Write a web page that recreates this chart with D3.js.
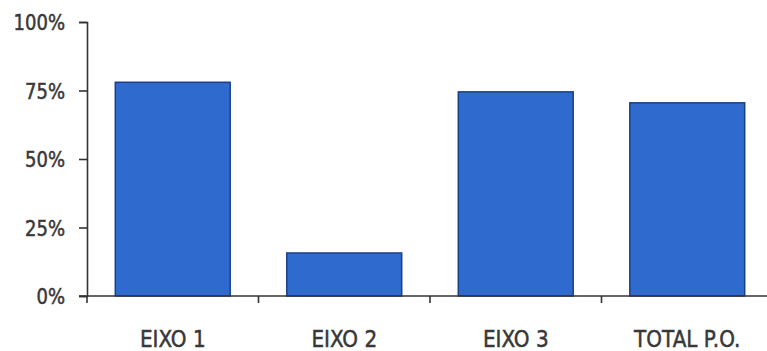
<!DOCTYPE html>
<html>
<head>
<meta charset="utf-8">
<script src="https://cdn.jsdelivr.net/npm/d3@7"></script>
<style>
  html, body { margin: 0; padding: 0; background: #ffffff; }
  svg { display: block; }
  text { font-family: "DejaVu Sans", Verdana, sans-serif; fill: #383838; stroke: #383838; stroke-width: 0.45px; }
</style>
</head>
<body>
<svg id="chart" width="767" height="351"></svg>
<script>
// Share of execution by priority axis
const categories = ["EIXO 1", "EIXO 2", "EIXO 3", "TOTAL P.O."];
const values = [0.78, 0.157, 0.745, 0.705];
const yTicks = [0, 0.25, 0.5, 0.75, 1];

const W = 767, H = 351;
const margin = { left: 87, top: 22, bottom: 55 };
const plotRight = 773;
const baseY = H - margin.bottom;

const svg = d3.select("#chart");

const x = d3.scaleBand()
  .domain(categories)
  .range([margin.left, plotRight])
  .paddingInner(0.33)
  .paddingOuter(0.165);

const y = d3.scaleLinear()
  .domain([0, 1])
  .range([baseY, margin.top]);

// Bars
svg.append("g")
  .selectAll("rect")
  .data(categories.map((c, i) => ({ c, v: values[i] })))
  .join("rect")
  .attr("x", d => x(d.c))
  .attr("y", d => y(d.v))
  .attr("width", x.bandwidth())
  .attr("height", d => y(0) - y(d.v))
  .attr("fill", "#2f6bcf")
  .attr("stroke", "#1b3f86")
  .attr("stroke-width", 1.5);

// Y axis
const yAxis = svg.append("g")
  .attr("transform", `translate(${margin.left},0)`)
  .call(d3.axisLeft(y)
    .tickValues(yTicks)
    .tickFormat(d3.format(".0%"))
    .tickSize(8));
yAxis.select(".domain").attr("stroke", "#333").attr("stroke-width", 1.6);
yAxis.selectAll(".tick line").attr("stroke", "#333").attr("stroke-width", 1.6);
yAxis.selectAll(".tick text")
  .attr("x", null).attr("dy", null)
  .attr("transform", "translate(-22,7.5) scale(1,1.18)")
  .style("font-size", "18px")
  .style("font-family", "'DejaVu Sans', Verdana, sans-serif")
  .attr("fill", "#383838");

// X axis line with ticks at category boundaries
const xAxis = svg.append("g").attr("transform", `translate(0,${baseY})`);
xAxis.append("line")
  .attr("x1", margin.left - 8).attr("x2", W)
  .attr("y1", 0).attr("y2", 0)
  .attr("stroke", "#333").attr("stroke-width", 1.6);

const bounds = d3.range(categories.length + 1).map(i => x.range()[0] + i * x.step());
xAxis.selectAll("line.bound")
  .data(bounds)
  .join("line")
  .attr("class", "bound")
  .attr("x1", d => d).attr("x2", d => d)
  .attr("y1", 0).attr("y2", 7)
  .attr("stroke", "#333").attr("stroke-width", 1.6);

xAxis.selectAll("text.cat")
  .data(categories)
  .join("text")
  .attr("class", "cat")
  .attr("transform", d => `translate(${x(d) + x.bandwidth() / 2},51) scale(1,1.12)`)
  .attr("text-anchor", "middle")
  .style("font-size", "20px")
  .text(d => d);
</script>
</body>
</html>
